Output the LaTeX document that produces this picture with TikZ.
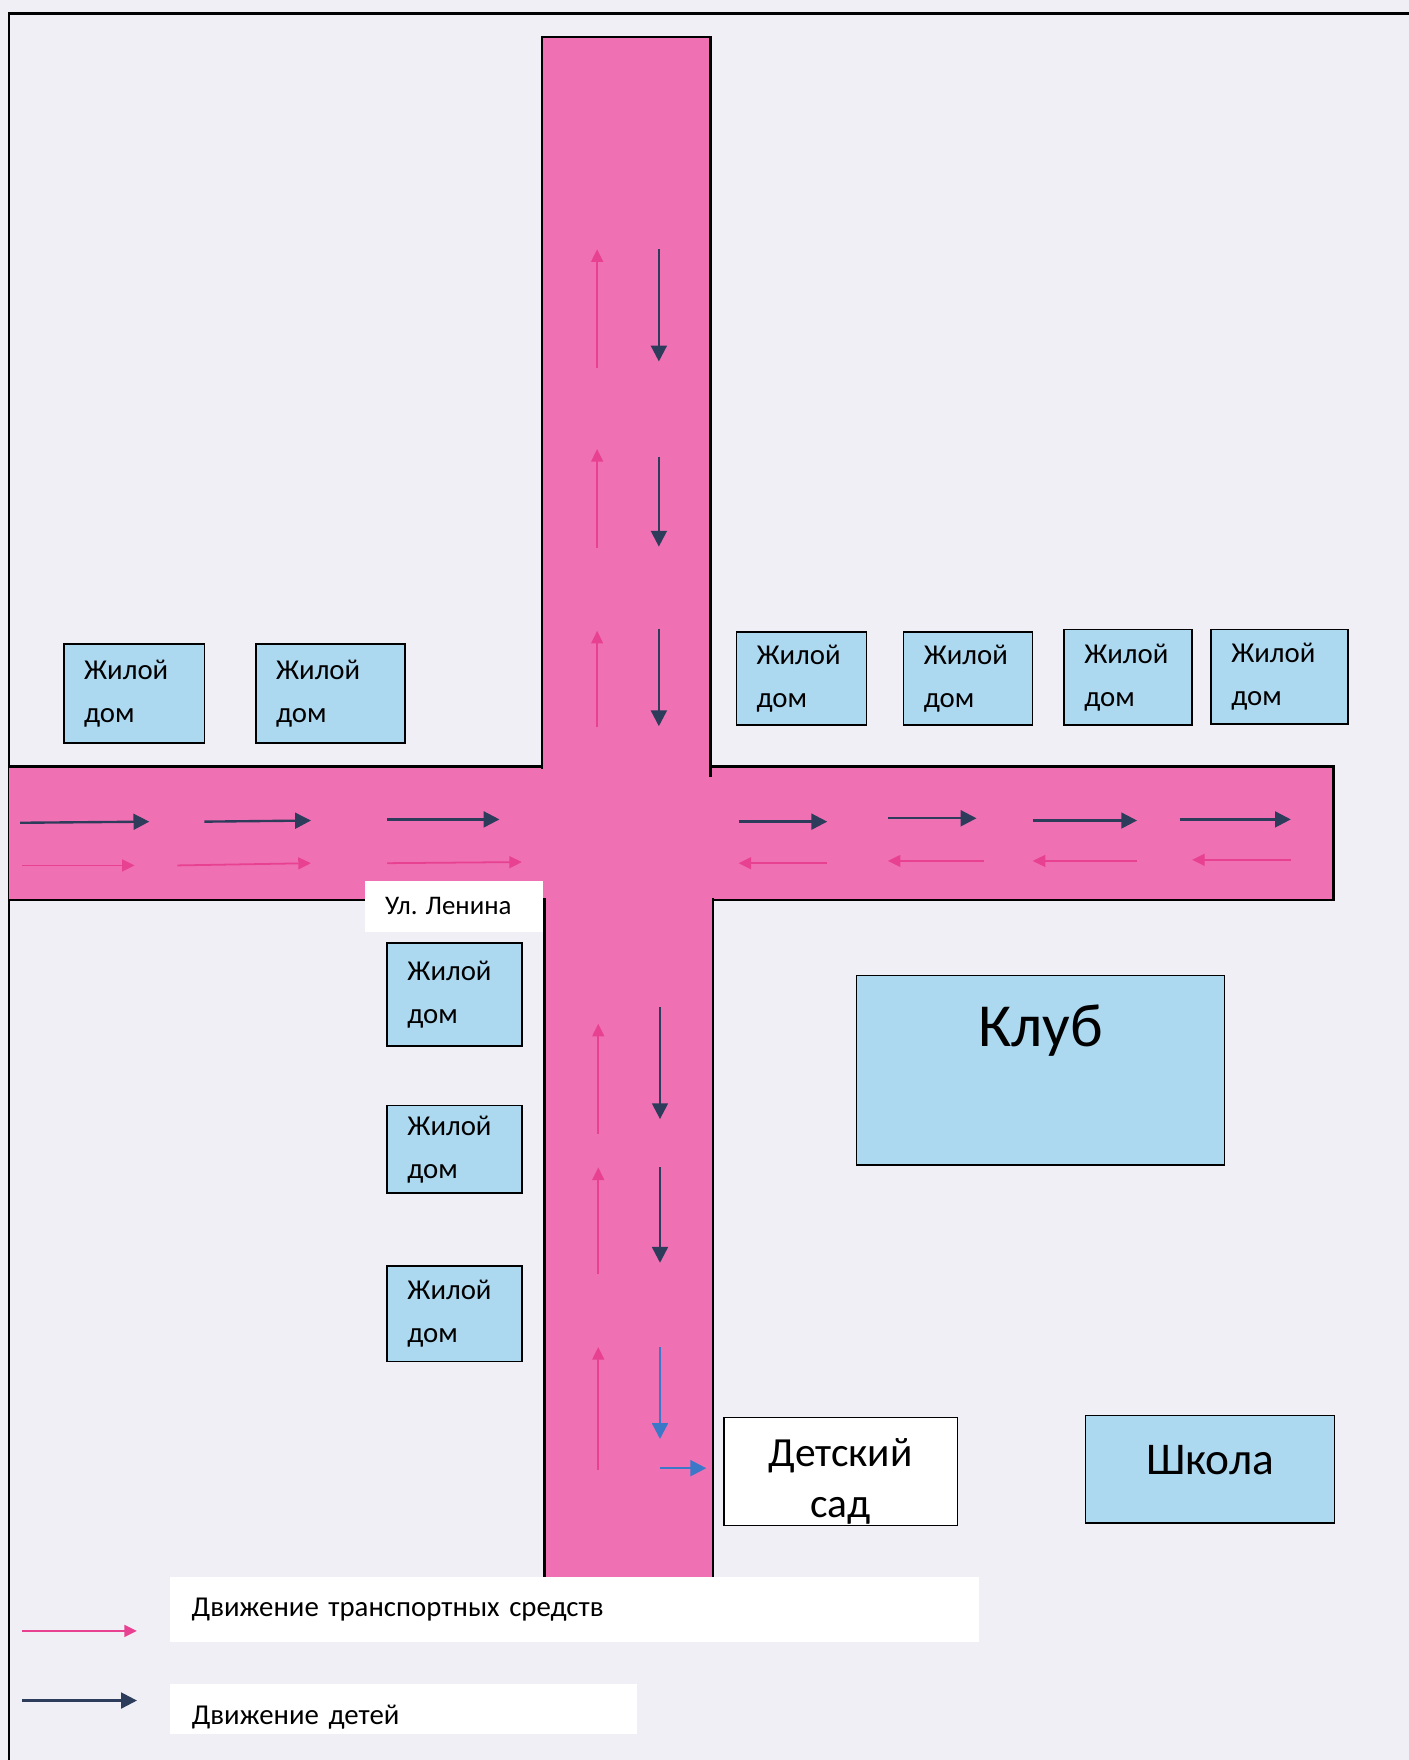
\documentclass[tikz,border=0pt]{standalone}
\usepackage{fontspec}
\setmainfont{Carlito}
\usetikzlibrary{arrows.meta}

\definecolor{paper}{RGB}{239,239,245}
\definecolor{road}{RGB}{240,112,180}
\definecolor{houseblue}{RGB}{172,216,240}
\definecolor{carpink}{RGB}{232,65,145}
\definecolor{kiddark}{RGB}{45,60,90}
\definecolor{kidblue}{RGB}{60,120,200}

\begin{document}
\begin{tikzpicture}[x=0.01cm,y=-0.01cm,
  house/.style={draw,fill=houseblue,inner xsep=0.18cm,inner ysep=0pt,align=left,text width=#1,font=\fontsize{7.3}{10.8}\selectfont},
  car/.style={draw=carpink,line width=0.45pt,-{Triangle[length=3.2pt,width=3pt]}},
  kid/.style={draw=kiddark,line width=0.6pt,-{Triangle[length=4pt,width=4pt]}},
  edge/.style={line width=0.6pt}]
\useasboundingbox[fill=paper] (0,0) rectangle (1255,1568);
\draw[edge] (8,1568) -- (8,12) -- (1255,12);

% roads
\fill[road] (483,33) rectangle (633,685);
\fill[road] (8,683) rectangle (1188,802);
\fill[road] (485,800) rectangle (635,1405);
\draw[edge] (483,685) -- (483,33) -- (633,33) -- (633,692);
\draw[edge] (8,683) -- (483,683) (633,683) -- (1188,683) -- (1188,802) -- (635,802) (485,802) -- (8,802);
\draw[edge] (485,800) -- (485,1405) (635,800) -- (635,1405);

% upper road
\draw[car] (532,328) -- (532,222);
\draw[car] (532,488) -- (532,400);
\draw[car] (532,648) -- (532,562);
\draw[kid] (587,222) -- (587,322);
\draw[kid] (587,407) -- (587,487);
\draw[kid] (587,560) -- (587,647);

% ul. Lenina
\draw[kid] (18,733) -- (133,732);
\draw[kid] (182,732) -- (277,731);
\draw[kid] (345,730) -- (445,730);
\draw[kid] (658,732) -- (737,732);
\draw[kid] (791,729) -- (870,729);
\draw[kid] (920,731) -- (1013,731);
\draw[kid] (1051,730) -- (1150,730);
\draw[car] (20,771) -- (120,771);
\draw[car] (158,771) -- (277,769);
\draw[car] (345,769) -- (465,768);
\draw[car] (737,769) -- (658,769);
\draw[car] (877,767) -- (791,767);
\draw[car] (1013,767) -- (920,767);
\draw[car] (1150,766) -- (1062,766);

% lower road
\draw[car] (533,1010) -- (533,912);
\draw[car] (533,1135) -- (533,1040);
\draw[car] (533,1310) -- (533,1200);
\draw[kid] (588,897) -- (588,997);
\draw[kid] (588,1040) -- (588,1125);
\draw[kid,draw=kidblue] (588,1200) -- (588,1282);

\path (119.5,618) node[house=0.89cm,minimum height=0.88cm](HouseW1){Жилой\\дом}
 (294.5,618) node[house=0.97cm,minimum height=0.88cm](HouseW2){Жилой\\дом}
 (714,604.5) node[house=0.80cm,minimum height=0.83cm](HouseE1){Жилой\\дом}
 (862.5,604.5) node[house=0.79cm,minimum height=0.83cm](HouseE2){Жилой\\дом}
 (1005,603.5) node[house=0.78cm,minimum height=0.85cm](HouseE3){Жилой\\дом}
 (1140,603) node[house=0.86cm,minimum height=0.84cm](HouseE4){Жилой\\дом}
 (405,886) node[house=0.84cm,minimum height=0.92cm](HouseS1){Жилой\\дом}
 (405,1024) node[house=0.84cm,minimum height=0.78cm](HouseS2){Жилой\\дом}
 (405,1170.5) node[house=0.84cm,minimum height=0.85cm](HouseS3){Жилой\\дом};

\path (927,953.5) node[draw,fill=houseblue,minimum width=3.28cm,minimum height=1.69cm,label={[font=\fontsize{15.5}{18}\selectfont,yshift=0.35cm]center:Клуб}](Club){}
 (749,1311) node[draw,fill=white,minimum width=2.08cm,minimum height=0.96cm,align=center,font=\fontsize{10.5}{12.8}\selectfont,label={[font=\fontsize{10.5}{12.8}\selectfont,align=center,yshift=-0.09cm]center:Детский\\сад}](Kindergarten){}
 (1078,1309) node[draw,fill=houseblue,minimum width=2.22cm,minimum height=0.96cm,label={[font=\fontsize{11.5}{14}\selectfont,yshift=0.08cm]center:Школа}](School){}
 (404.5,807.5) node[fill=white,minimum width=1.59cm,minimum height=0.45cm,label={[font=\fontsize{6.8}{8}\selectfont,xshift=-0.05cm]center:Ул. Ленина}](Street){};

\coordinate (KidTurn) at (588,1308);
\draw[kid,draw=kidblue,shorten >=0.15cm] (KidTurn) -- (Kindergarten.west|-KidTurn);

% legend
\path (512,1434) node[fill=white,minimum height=0.58cm,text width=6.82cm,inner xsep=0.19cm,font=\fontsize{7.3}{9}\selectfont](LegendCars){Движение транспортных средств}
 (359.5,1522.5) node[fill=white,minimum height=0.45cm,text width=3.77cm,inner xsep=0.19cm,inner ysep=0pt,font=\fontsize{7.3}{9}\selectfont,text height=0.32cm](LegendKids){Движение детей};
\coordinate (CarsTail) at (20,1453);
\coordinate (CarsHead) at (122,1453);
\coordinate (KidsTail) at (20,1515);
\coordinate (KidsHead) at (122,1515);
\draw[car] (CarsTail) -- (CarsHead);
\draw[kid] (KidsTail) -- (KidsHead);
\end{tikzpicture}
\end{document}
